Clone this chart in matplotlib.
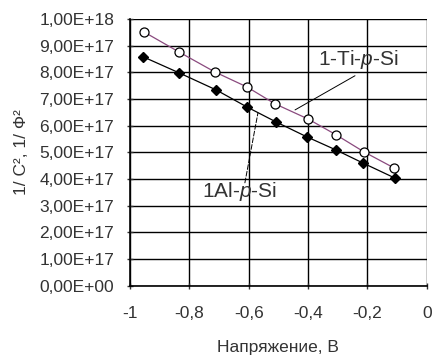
import matplotlib
matplotlib.use("Agg")
import matplotlib.pyplot as plt
from matplotlib.ticker import FuncFormatter

# voltage (V) and 1/C^2 values
v_ti = [-0.953, -0.835, -0.714, -0.606, -0.512, -0.40, -0.306, -0.212, -0.111]
c_ti = [9.51e17, 8.76e17, 8.01e17, 7.45e17, 6.82e17, 6.25e17, 5.66e17, 5.02e17, 4.42e17]
v_al = [-0.956, -0.835, -0.71, -0.606, -0.508, -0.404, -0.306, -0.215, -0.108]
c_al = [8.58e17, 7.98e17, 7.34e17, 6.70e17, 6.14e17, 5.58e17, 5.09e17, 4.60e17, 4.04e17]

plt.rcParams["font.family"] = ["Liberation Sans", "DejaVu Sans"]
plt.rcParams["mathtext.fontset"] = "custom"
plt.rcParams["mathtext.rm"] = "Liberation Sans"
plt.rcParams["mathtext.it"] = "Liberation Sans:italic"

TXT = "#333333"

fig = plt.figure(figsize=(4.32, 3.56), dpi=100)
ax = fig.add_axes([0.301, 0.197, 0.687, 0.750])

ax.plot(v_ti, c_ti, color="#8a4a7e", lw=0.9, marker="o", ms=6.5,
        mfc="white", mec="black", mew=0.9, zorder=4)
ax.plot(v_al, c_al, color="black", lw=0.9, marker="D", ms=5,
        mfc="black", mec="black", zorder=4)

ax.set_xlim(-1, 0)
ax.set_ylim(0, 1e18)
ax.set_xticks([-1, -0.8, -0.6, -0.4, -0.2, 0])
ax.set_yticks([i * 1e17 for i in range(11)])
ax.xaxis.set_major_formatter(FuncFormatter(
    lambda x, p: "0" if abs(x) < 1e-9 else f"{x:g}".replace(".", ",")))

def sci(y, p):
    if y == 0:
        return "0,00E+00"
    m, e = f"{y:.2E}".split("E")
    return f"{m.replace('.', ',')}E+{int(e):02d}"

ax.yaxis.set_major_formatter(FuncFormatter(sci))
ax.tick_params(labelsize=12.5, colors=TXT, length=5, width=1,
               direction="inout")
ax.tick_params(axis="x", pad=12)
ax.tick_params(axis="y", pad=9)
ax.grid(True, color="black", lw=1)
for s in ["left", "bottom"]:
    ax.spines[s].set_linewidth(1.2)
for s in ["top", "right"]:
    ax.spines[s].set_visible(False)

# series labels with leader lines
ax.text(-0.367, 8.46e17, "1-Ti-$p$-Si", fontsize=15, color=TXT, va="center")
ax.annotate("", xy=(-0.444, 6.59e17), xytext=(-0.242, 7.87e17),
            arrowprops=dict(arrowstyle="-", color="black", lw=0.7,
                            shrinkA=0, shrinkB=0))
ax.text(-0.758, 3.52e17, "1Al-$p$-Si", fontsize=15, color=TXT, va="center")
ax.annotate("", xy=(-0.569, 6.48e17), xytext=(-0.613, 3.86e17),
            arrowprops=dict(arrowstyle="-", color="black", lw=0.7,
                            linestyle=(0, (5, 2)), shrinkA=0, shrinkB=0))

ax.set_xlabel("Напряжение, В", fontsize=12.5, color=TXT, labelpad=14)
ax.set_ylabel("1/ C², 1/ Ф²", fontsize=12.5, color=TXT, labelpad=7)

fig.savefig("out.png", dpi=100)
